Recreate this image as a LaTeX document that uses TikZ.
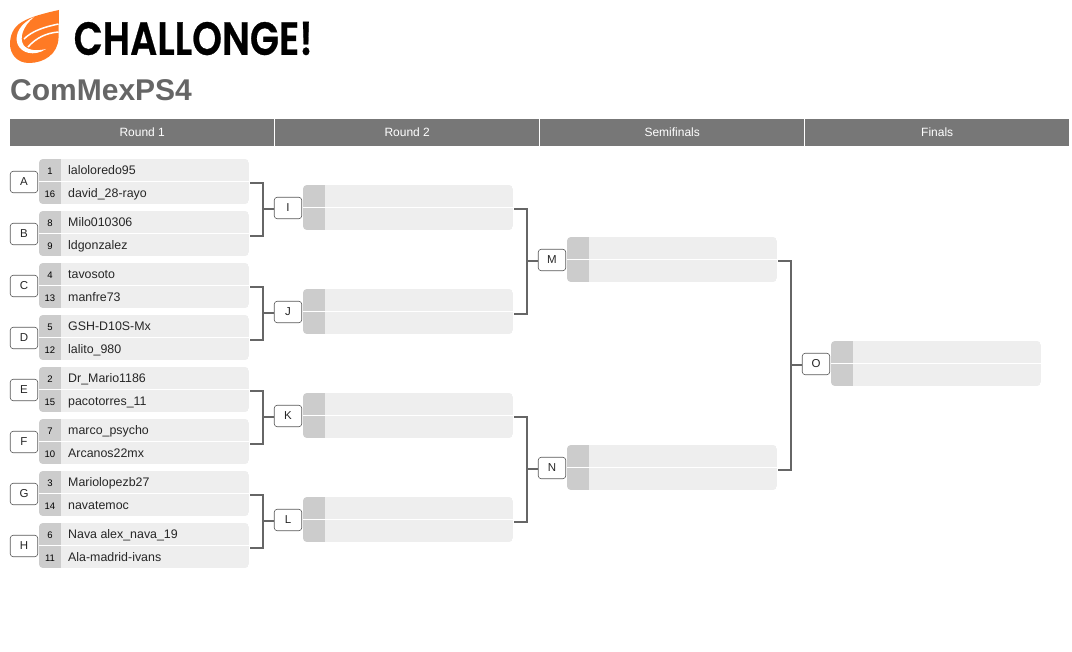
\documentclass[tikz,border=0pt]{standalone}
\usepackage{fontspec}
\setmainfont{Liberation Sans}
\newfontfamily\logofont[FakeBold=0.6]{Poppins SemiBold}
\usetikzlibrary{calc}
\definecolor{hdr}{HTML}{777777}
\definecolor{rowbg}{HTML}{EEEEEE}
\definecolor{seedbg}{HTML}{CCCCCC}
\definecolor{lineg}{HTML}{666666}
\definecolor{orangeL}{HTML}{FF7A24}
\tikzset{
  hdrcell/.style={fill=hdr,draw=none,minimum width=264pt,minimum height=27pt,inner sep=0pt,text=white,font=\fontsize{12}{12}\selectfont,anchor=north west},
  tag/.style={draw=black!65,line width=0.6pt,fill=white,rounded corners=3pt,minimum width=27.5pt,minimum height=21.5pt,inner sep=0pt,font=\fontsize{11.5}{12}\selectfont,text=black!85},
  seedtxt/.style={font=\fontsize{9.5}{10}\selectfont,text=black,anchor=center},
  nametxt/.style={font=\fontsize{12.4}{12}\selectfont,text=black!85,anchor=base west,inner sep=0pt},
  wire/.style={draw=lineg,line width=2.1pt},
}
% #1 name, #2 left x, #3 top y, #4 seed1, #5 name1, #6 seed2, #7 name2, #8 tag
\newcommand{\matchbox}[8]{
  \begin{scope}
    \clip[rounded corners=4pt] (#2,#3) rectangle ++(210,45);
    \fill[rowbg] (#2,#3) rectangle ++(210,45);
    \fill[seedbg] (#2,#3) rectangle ++(22,45);
    \fill[white] (#2,#3+22) rectangle ++(210,1);
  \end{scope}
  \coordinate (#1out) at (#2+210,#3+22.5);
  \node[tag] (#1) at (#2-15,#3+23) {#8};
  \node[seedtxt] (#1s1) at (#2+11,#3+12) {#4};
  \node[seedtxt] (#1s2) at (#2+11,#3+35) {#6};
  \node[nametxt] (#1n1) at (#2+29,#3+15.5) {#5};
  \node[nametxt] (#1n2) at (#2+29,#3+38.3) {#7};
}
% wire from two outputs to a tag
\newcommand{\bracket}[3]{
  \draw[wire,line cap=butt,line join=miter] ($(#1out)+(1,1.2)$) -| ($(#1out)+(14,1.2)$) |- ($(#2out)+(1,2.4)$);
  \coordinate (#3mid) at ($(#1out)!0.5!(#2out)+(14,1.8)$);
  \draw[wire] (#3mid) -- (#3mid -| #3.west);
}
\begin{document}
\begin{tikzpicture}[x=1pt,y=-1pt]
\useasboundingbox (0,0) rectangle (1072,652);
\fill[white] (0,0) rectangle (1072,652);
% logo
\fill[orangeL] (59,10) .. controls (45,13) and (30,17) .. (22,22) .. controls (13,27) and (10,36) .. (10,44) .. controls (10,54) and (17,63) .. (29,63) .. controls (44,63) and (58,54) .. (58.5,38) -- cycle;
\draw[white,line width=1.5pt] (58.5,24) .. controls (44,27) and (32,31) .. (24,39);
\draw[white,line width=1.5pt] (58.5,32) .. controls (46,33) and (36,38) .. (28,47);
\fill[white] (34,17) .. controls (21,23) and (14,34) .. (17.5,44) .. controls (21,53) and (34,57) .. (46,49) .. controls (38,51) and (28,51) .. (23.5,45) .. controls (19,38) and (23,26) .. (34,17) -- cycle;
\node[anchor=west,inner sep=0pt] (logo) at (73.5,38.5) {\resizebox{239pt}{33pt}{\logofont CHALLONGE!}};
\node[anchor=base west,inner sep=0pt,text=black!60,font=\fontsize{30}{30}\selectfont\bfseries] (title) at (10,100.5) {ComMexPS4};
% headers
\node[hdrcell] (h1) at (10,119) {\raisebox{-0.8pt}{Round 1}\hspace{4pt}};
\node[hdrcell] (h2) at (275,119) {\raisebox{-0.8pt}{Round 2}\hspace{4pt}};
\node[hdrcell] (h3) at (540,119) {\raisebox{-0.8pt}{Semifinals}\hspace{4pt}};
\node[hdrcell] (h4) at (805,119) {\raisebox{-0.8pt}{Finals}\hspace{4pt}};
% round 1
\matchbox{A}{39}{159}{1}{laloloredo95}{16}{david\_28-rayo}{A}
\matchbox{B}{39}{211}{8}{Milo010306}{9}{ldgonzalez}{B}
\matchbox{C}{39}{263}{4}{tavosoto}{13}{manfre73}{C}
\matchbox{D}{39}{315}{5}{GSH-D10S-Mx}{12}{lalito\_980}{D}
\matchbox{E}{39}{367}{2}{Dr\_Mario1186}{15}{pacotorres\_11}{E}
\matchbox{F}{39}{419}{7}{marco\_psycho}{10}{Arcanos22mx}{F}
\matchbox{G}{39}{471}{3}{Mariolopezb27}{14}{navatemoc}{G}
\matchbox{H}{39}{523}{6}{Nava alex\_nava\_19}{11}{Ala-madrid-ivans}{H}
% round 2
\matchbox{I}{303}{185}{}{}{}{}{I}
\matchbox{J}{303}{289}{}{}{}{}{J}
\matchbox{K}{303}{393}{}{}{}{}{K}
\matchbox{L}{303}{497}{}{}{}{}{L}
% semis
\matchbox{M}{567}{237}{}{}{}{}{M}
\matchbox{N}{567}{445}{}{}{}{}{N}
% final
\matchbox{O}{831}{341}{}{}{}{}{O}
% wires
\bracket{A}{B}{I}
\bracket{C}{D}{J}
\bracket{E}{F}{K}
\bracket{G}{H}{L}
\bracket{I}{J}{M}
\bracket{K}{L}{N}
\bracket{M}{N}{O}
\end{tikzpicture}
\end{document}
